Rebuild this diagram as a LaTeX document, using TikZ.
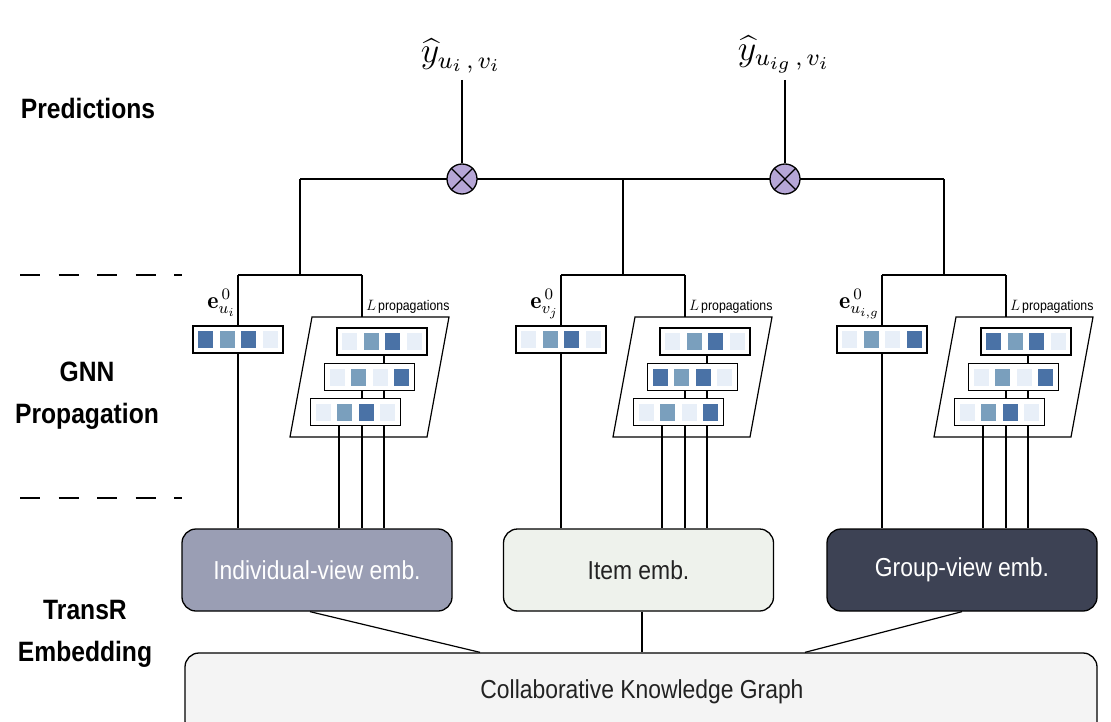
\documentclass[tikz,border=0pt]{standalone}
\usepackage{graphicx}
\usepackage{fontspec}
\newfontfamily\narrow[FakeStretch=0.88]{Liberation Sans}
\usetikzlibrary{calc}
\definecolor{cdark}{HTML}{4A72A6}
\definecolor{cmed}{HTML}{7A9FBD}
\definecolor{clight}{HTML}{E8EFF8}
\definecolor{lav}{HTML}{B6A6D6}
\definecolor{indiv}{HTML}{9A9EB4}
\definecolor{itemc}{HTML}{EEF2EC}
\definecolor{groupc}{HTML}{3D4254}
\definecolor{ckgc}{HTML}{F4F4F4}
\definecolor{txt}{HTML}{222222}
\tikzset{
  wire/.style={line width=1.2pt, black},
  embbox/.style={draw, line width=1.3pt, fill=white, minimum width=90, minimum height=27, inner sep=0pt},
  viewbox/.style={draw, line width=1.3pt, rounded corners=14pt, minimum width=270, minimum height=82, inner sep=0pt, font=\narrow\fontsize{26}{30}\selectfont},
  lab/.style={font=\narrow\bfseries\fontsize{28}{42}\selectfont, align=center, inner sep=0pt},
  otimesnode/.style={circle, draw, line width=1.3pt, fill=lav, minimum size=30, inner sep=0pt},
  elab/.style={anchor=base east, inner sep=0pt, font=\fontsize{12}{14}\selectfont},
  proplab/.style={anchor=base west, inner sep=0pt},
  yhat/.style={anchor=south, inner sep=0pt, font=\fontsize{12}{14}\selectfont},
}
\newcommand\embrow[7]{%
  \node[embbox] (#1) at (#2,#3) {};
  \fill[#4] ({#2-39.75},{#3-8.5}) rectangle ({#2-24.75},{#3+8.5});
  \fill[#5] ({#2-18.25},{#3-8.5}) rectangle ({#2-3.25},{#3+8.5});
  \fill[#6] ({#2+3.25},{#3-8.5}) rectangle ({#2+18.25},{#3+8.5});
  \fill[#7] ({#2+24.75},{#3-8.5}) rectangle ({#2+39.75},{#3+8.5});
}
\newcommand\gnnframe[2]{%
  \coordinate (hub#1) at ({300+#2},275);
  \coordinate (hl#1) at ({238+#2},275);
  \coordinate (hr#1) at ({362+#2},275);
  \coordinate (pt#1) at ({362+#2},317);
  \coordinate (xa#1) at ({339+#2},0);
  \coordinate (xb#1) at ({362+#2},0);
  \coordinate (xc#1) at ({384+#2},0);
  \draw[wire] (hl#1) -- (hr#1);
  \draw[wire] (hr#1) -- (pt#1);
  \draw[wire, fill=white] ({312+#2},317) -- ({449+#2},317) -- ({427+#2},437) -- ({290+#2},437) -- cycle;
  \node[proplab] (pl#1) at ({366+#2},310) {\fontsize{12}{14}\selectfont\scalebox{1.25}{$L$}\,{\narrow\fontsize{14}{16}\selectfont propagations}};
}
\newcommand\gnnlinks[1]{%
  \draw[wire] (hl#1) -- (e#1.north);
  \draw[wire] (e#1.south) -- (e#1.south |- view#1.north);
  \draw[wire] (xc#1 |- b1#1.south) -- (xc#1 |- b2#1.north);
  \draw[wire] (xb#1 |- b2#1.south) -- (xb#1 |- b3#1.north);
  \draw[wire] (xc#1 |- b2#1.south) -- (xc#1 |- b3#1.north);
  \draw[wire] (xa#1 |- b3#1.south) -- (xa#1 |- view#1.north);
  \draw[wire] (xb#1 |- b3#1.south) -- (xb#1 |- view#1.north);
  \draw[wire] (xc#1 |- b3#1.south) -- (xc#1 |- view#1.north);
}
\begin{document}
\begin{tikzpicture}[x=1pt, y=-1pt]
\clip (0,0) rectangle (1111,722);
\fill[white] (0,0) rectangle (1111,722);

% side labels
\node[lab] (predl) at (88,108) {Predictions};
\node[lab] (gnnl) at (87,396) {GNN\\Propagation};
\node[lab] (transl) at (85,634) {TransR\\Embedding};
\coordinate (d1a) at (20,275); \coordinate (d1b) at (182,275);
\coordinate (d2a) at (20,498); \coordinate (d2b) at (182,498);
\draw[wire, dash pattern=on 20pt off 18.5pt] (d1a) -- (d1b);
\draw[wire, dash pattern=on 20pt off 18.5pt] (d2a) -- (d2b);

% groups frames (coordinates)
\gnnframe{a}{0}
\gnnframe{b}{323}
\gnnframe{c}{644}

% top tree
\coordinate (tl) at (300,179);
\coordinate (tm) at (623,179);
\coordinate (tr) at (944,179);
\draw[wire] (tl) -- (tr);
\draw[wire] (tl) -- (huba);
\draw[wire] (tm) -- (hubb);
\draw[wire] (tr) -- (hubc);
\node[otimesnode] (ot1) at (462,179) {};
\node[otimesnode] (ot2) at (785,179) {};
\foreach \o in {ot1,ot2}{
  \draw[line width=1.2pt] (\o.north west) -- (\o.south east);
  \draw[line width=1.2pt] (\o.north east) -- (\o.south west);
}
\node[yhat] (yh1) at (461,73) {\scalebox{3}{$\widehat{y}_{u_i\,,\,v_i}$}};
\node[yhat] (yh2) at (784,73) {\scalebox{3}{$\widehat{y}_{u_{ig}\,,\,v_i}$}};
\coordinate (yl1) at (462,80);
\coordinate (yl2) at (785,80);
\draw[wire] (yl1) -- (ot1.north);
\draw[wire] (yl2) -- (ot2.north);

% view boxes
\node[viewbox, fill=indiv, text=white] (viewa) at (317,570) {Individual-view emb.};
\node[viewbox, fill=itemc, text=txt] (viewb) at (638.5,570) {Item emb.};
\node[viewbox, fill=groupc, text=white] (viewc) at (962,570) {Group-view emb.};
\node[draw, line width=1.3pt, rounded corners=14pt, fill=ckgc, minimum width=912, minimum height=82, inner sep=0pt] (ckg) at (641,694) {};
\node[font=\narrow\fontsize{26}{30}\selectfont, text=txt, inner sep=0pt] (ckgt) at (642,692) {Collaborative Knowledge Graph};
\draw[wire] ($(viewa.south)+(-7,0)$) -- ($(ckg.north)+(-161,0)$);
\draw[wire] ($(viewb.south)+(3.5,0)$) -- ($(ckg.north)+(1,0)$);
\draw[wire] (viewc.south) -- ($(ckg.north)+(164,0)$);

% embedding rows: group a
\embrow{ea}{238}{339.5}{cdark}{cmed}{cdark}{clight}
\embrow{b1a}{382}{341.5}{clight}{cmed}{cdark}{clight}
\embrow{b2a}{369.5}{377}{clight}{cmed}{clight}{cdark}
\embrow{b3a}{355.5}{412}{clight}{cmed}{cdark}{clight}
% group b
\embrow{eb}{561}{339.5}{clight}{cmed}{cdark}{clight}
\embrow{b1b}{705}{341.5}{clight}{cmed}{cdark}{clight}
\embrow{b2b}{692.5}{377}{cdark}{cmed}{cdark}{clight}
\embrow{b3b}{678.5}{412}{clight}{cmed}{clight}{cdark}
% group c
\embrow{ec}{882}{339.5}{clight}{cmed}{clight}{cdark}
\embrow{b1c}{1026}{341.5}{cdark}{cmed}{cdark}{clight}
\embrow{b2c}{1013.5}{377}{clight}{cmed}{clight}{cdark}
\embrow{b3c}{999.5}{412}{clight}{cmed}{cdark}{clight}

\gnnlinks{a}
\gnnlinks{b}
\gnnlinks{c}

% e labels
\node[elab] (ela) at (236,308) {\scalebox{2}{$\mathbf{e}_{u_i}^{\hspace{1.5pt}0}$}};
\node[elab] (elb) at (559,308) {\scalebox{2}{$\mathbf{e}_{v_j}^{\hspace{1.5pt}0}$}};
\node[elab] (elc) at (880,308) {\scalebox{2}{$\mathbf{e}_{u_{i,g}}^{\hspace{1.5pt}0}$}};
\end{tikzpicture}
\end{document}
